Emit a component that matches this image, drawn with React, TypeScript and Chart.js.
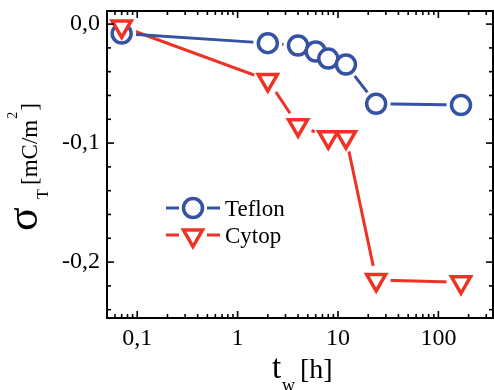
import React, { useEffect, useRef } from "react";
import { Chart, registerables } from "chart.js";
Chart.register(...registerables);

// ---- data ----
const timesTeflon = [0.07, 2, 4, 6, 8, 12, 24, 168];
const sigmaTeflon = [-0.008, -0.016, -0.018, -0.023, -0.029, -0.034, -0.067, -0.068];
const timesCytop = [0.07, 2, 4, 8, 12, 24, 168];
const sigmaCytop = [-0.002, -0.047, -0.085, -0.095, -0.095, -0.215, -0.217];
const seriesNames = ["Teflon", "Cytop"];
const xTickValues = [0.1, 1, 10, 100];
const xTickLabels = ["0,1", "1", "10", "100"];
const yTickValues = [-0.2, -0.1, 0];
const yTickLabels = ["-0,2", "-0,1", "0,0"];

const BLUE = "#3552a3";
const RED = "#ee3326";
const SERIF = '"Liberation Serif", "Times New Roman", serif';

function pts(xs: number[], ys: number[]) {
  return xs.map((x, i) => ({ x, y: ys[i] }));
}

function drawCircle(ctx: CanvasRenderingContext2D, x: number, y: number, r: number, color: string, bw: number) {
  ctx.beginPath();
  ctx.arc(x, y, r, 0, Math.PI * 2);
  ctx.fillStyle = "#fff";
  ctx.fill();
  ctx.lineWidth = bw;
  ctx.strokeStyle = color;
  ctx.stroke();
}
function drawTriDown(ctx: CanvasRenderingContext2D, x: number, y: number, r: number, color: string, bw: number) {
  ctx.beginPath();
  ctx.moveTo(x, y + r);
  ctx.lineTo(x - r * Math.sin(Math.PI / 3), y - r / 2);
  ctx.lineTo(x + r * Math.sin(Math.PI / 3), y - r / 2);
  ctx.closePath();
  ctx.fillStyle = "#fff";
  ctx.fill();
  ctx.lineWidth = bw;
  ctx.strokeStyle = color;
  ctx.stroke();
}

const decorPlugin = {
  id: "decor",
  afterDraw(chart: any) {
    const { ctx, chartArea: a, scales } = chart;
    const xs = scales.x;
    const ys = scales.y;
    ctx.save();
    ctx.strokeStyle = "#000";
    ctx.lineCap = "butt";
    const seg = (x1: number, y1: number, x2: number, y2: number) => {
      ctx.beginPath();
      ctx.moveTo(x1, y1);
      ctx.lineTo(x2, y2);
      ctx.stroke();
    };
    // x ticks (inward, top and bottom)
    ctx.lineWidth = 1.6;
    for (let e = -2; e <= 3; e++) {
      for (let m = 1; m <= 9; m++) {
        const v = m * Math.pow(10, e);
        if (v < xs.min || v > xs.max) continue;
        const px = xs.getPixelForValue(v);
        const len = m === 1 ? 7 : 4;
        seg(px, a.bottom, px, a.bottom - len);
        seg(px, a.top, px, a.top + len);
      }
    }
    // y ticks every 0.02
    for (let k = -15; k <= 1; k++) {
      const v = k * 0.02;
      if (v < ys.min || v > ys.max) continue;
      const py = ys.getPixelForValue(v);
      const len = k % 5 === 0 ? 7 : 4;
      seg(a.left, py, a.left + len, py);
      seg(a.right, py, a.right - len, py);
    }
    // frame
    ctx.lineWidth = 2;
    ctx.strokeRect(a.left, a.top, a.right - a.left, a.bottom - a.top);

    // legend
    const legendRows = [
      { name: seriesNames[0], color: BLUE, y: 208, kind: "circle" },
      { name: seriesNames[1], color: RED, y: 235, kind: "tri" },
    ];
    for (const row of legendRows) {
      ctx.strokeStyle = row.color;
      ctx.lineWidth = 3;
      seg(166, row.y, 179, row.y);
      seg(207, row.y, 220, row.y);
      if (row.kind === "circle") drawCircle(ctx, 193, row.y, 9.5, row.color, 3.5);
      else drawTriDown(ctx, 193, row.y + 0.5, 11, row.color, 3.5);
      ctx.fillStyle = "#000";
      ctx.font = `23px ${SERIF}`;
      ctx.textAlign = "left";
      ctx.textBaseline = "alphabetic";
      ctx.fillText(row.name, 225, row.y + 7.5);
    }

    // y title: σ_T [mC/m²]
    ctx.save();
    ctx.translate(37, 231);
    ctx.rotate(-Math.PI / 2);
    ctx.fillStyle = "#000";
    ctx.textAlign = "left";
    ctx.textBaseline = "alphabetic";
    ctx.font = `44px ${SERIF}`;
    ctx.fillText("σ", 0, 0);
    ctx.font = `16px ${SERIF}`;
    ctx.fillText("T", 32, 11);
    ctx.font = `23px ${SERIF}`;
    ctx.fillText("[mC/m", 46, 0);
    const w1 = ctx.measureText("[mC/m").width;
    ctx.font = `14px ${SERIF}`;
    ctx.fillText("2", 46 + w1 + 1, -20);
    const w2 = ctx.measureText("2").width;
    ctx.font = `23px ${SERIF}`;
    ctx.fillText("]", 46 + w1 + w2 + 2, 0);
    ctx.restore();

    // x title: t_w [h]
    ctx.fillStyle = "#000";
    ctx.textAlign = "left";
    ctx.textBaseline = "alphabetic";
    ctx.font = `33px ${SERIF}`;
    ctx.fillText("t", 272, 378);
    ctx.font = `18px ${SERIF}`;
    ctx.fillText("w", 282, 391);
    ctx.font = `28px ${SERIF}`;
    ctx.fillText("[h]", 300, 378);
    ctx.restore();
  },
};

const zeroPad = (s: any) => {
  s.paddingTop = 0;
  s.paddingBottom = 0;
  s.paddingLeft = 0;
  s.paddingRight = 0;
};

export default function App() {
  const ref = useRef<HTMLCanvasElement | null>(null);
  useEffect(() => {
    if (!ref.current) return;
    const teflon = pts(timesTeflon, sigmaTeflon);
    const cytop = pts(timesCytop, sigmaCytop);
    const chart = new Chart(ref.current, {
      type: "scatter",
      data: {
        datasets: [
          { label: seriesNames[1] + " line", data: cytop, showLine: true, borderColor: RED, borderWidth: 3, pointRadius: 0, order: 7 },
          { label: seriesNames[0] + " line", data: teflon, showLine: true, borderColor: BLUE, borderWidth: 3, pointRadius: 0, order: 6 },
          { label: "halo a", data: teflon, showLine: false, pointRadius: 14.5, pointBorderWidth: 0, pointBackgroundColor: "#fff", pointBorderColor: "#fff", order: 5 },
          { label: "halo b", data: cytop, showLine: false, pointRadius: 14.5, pointBorderWidth: 0, pointBackgroundColor: "#fff", pointBorderColor: "#fff", order: 4 },
          { label: seriesNames[0], data: teflon, showLine: false, pointStyle: "circle", pointRadius: 9.5, pointBorderWidth: 3.5, pointBorderColor: BLUE, pointBackgroundColor: "#fff", order: 3 },
          { label: seriesNames[1], data: cytop, showLine: false, pointStyle: "triangle", pointRotation: 180, pointRadius: 11, pointBorderWidth: 3.5, pointBorderColor: RED, pointBackgroundColor: "#fff", order: 2 },
        ],
      },
      options: {
        animation: false,
        responsive: false,
        devicePixelRatio: 1,
        layout: { autoPadding: false, padding: { top: 11, right: 1, left: 0, bottom: 0 } },
        plugins: { legend: { display: false }, tooltip: { enabled: false } },
        scales: {
          x: {
            type: "logarithmic",
            position: "bottom",
            min: 0.05,
            max: 350,
            grid: { display: false, drawTicks: false },
            border: { display: false },
            afterBuildTicks: (s: any) => {
              s.ticks = xTickValues.map((v) => ({ value: v }));
            },
            afterFit: (s: any) => {
              s.height = 72;
              zeroPad(s);
            },
            ticks: {
              autoSkip: false,
              maxRotation: 0,
              padding: 6,
              color: "#000",
              font: { family: SERIF, size: 24 },
              callback: (v: any) => {
                const i = xTickValues.findIndex((t) => Math.abs(t - Number(v)) < 1e-9);
                return i >= 0 ? xTickLabels[i] : "";
              },
            },
          },
          y: {
            type: "linear",
            min: -0.247,
            max: 0.011,
            grid: { display: false, drawTicks: false },
            border: { display: false },
            afterBuildTicks: (s: any) => {
              s.ticks = yTickValues.map((v) => ({ value: v }));
            },
            afterFit: (s: any) => {
              s.width = 107;
              zeroPad(s);
            },
            ticks: {
              autoSkip: false,
              padding: 7,
              color: "#000",
              font: { family: SERIF, size: 24 },
              callback: (v: any) => {
                const i = yTickValues.findIndex((t) => Math.abs(t - Number(v)) < 1e-9);
                return i >= 0 ? yTickLabels[i] : "";
              },
            },
          },
        },
      },
      plugins: [decorPlugin],
    } as any);
    return () => chart.destroy();
  }, []);
  return (
    <div style={{ position: "fixed", left: 0, top: 0, width: 494, height: 390, background: "#fff" }}>
      <canvas ref={ref} width={494} height={390} style={{ display: "block" }} />
    </div>
  );
}
